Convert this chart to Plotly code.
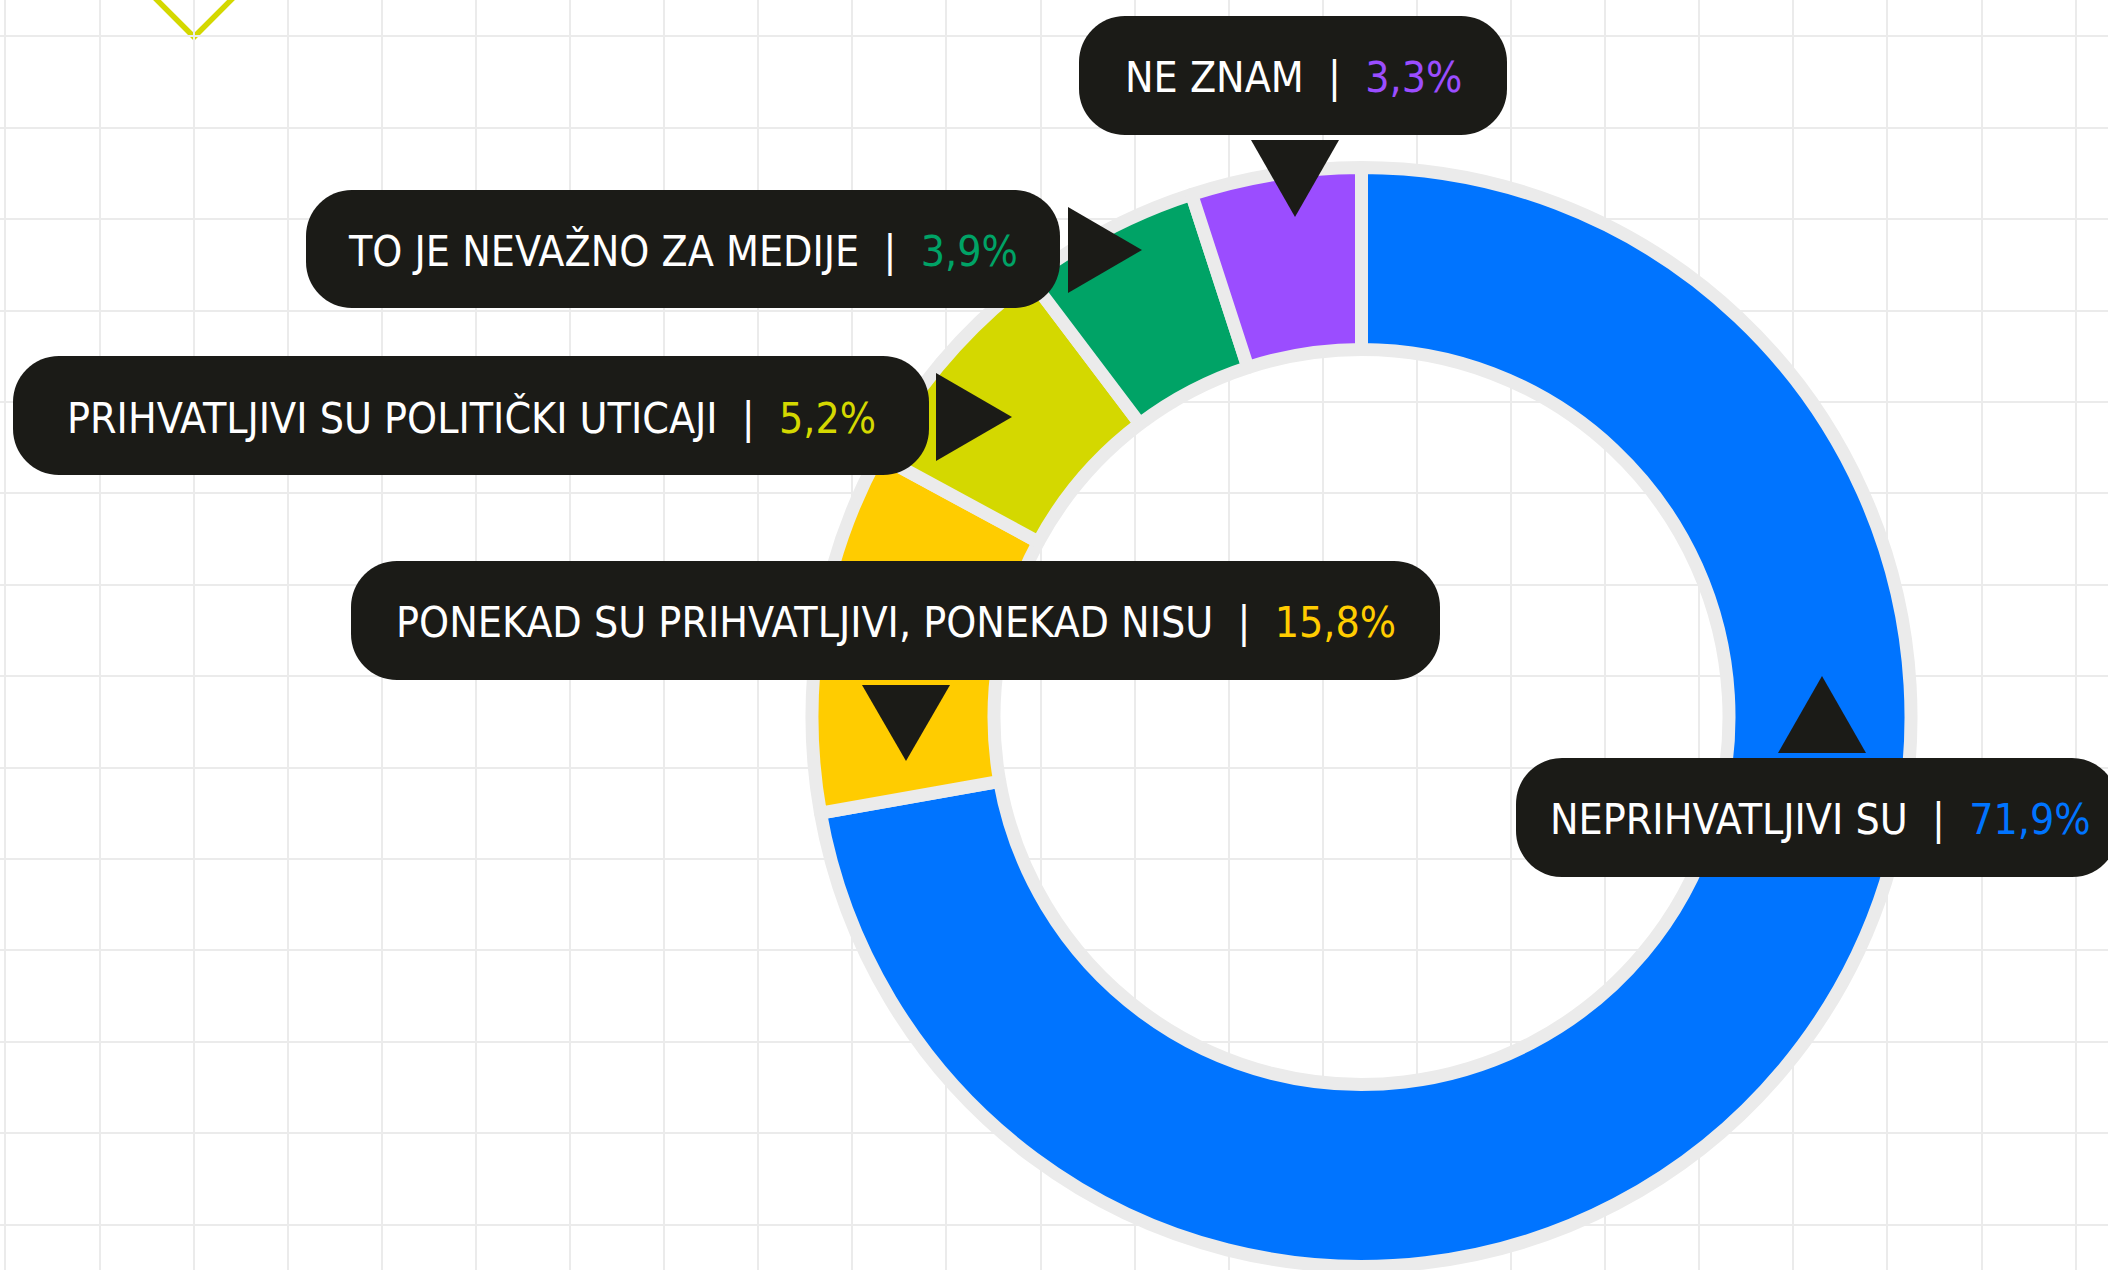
import plotly.graph_objects as go

# ---------------- data ----------------
categories = [
    "NEPRIHVATLJIVI SU",
    "PONEKAD SU PRIHVATLJIVI, PONEKAD NISU",
    "PRIHVATLJIVI SU POLITIČKI UTICAJI",
    "TO JE NEVAŽNO ZA MEDIJE",
    "NE ZNAM",
]
# percentages printed in the labels
values = [71.9, 15.8, 5.2, 3.9, 3.3]
# share of the ring that each slice actually occupies in the picture
slice_shares = [72.2, 10.7, 6.8, 5.3, 5.0]
colors = ["#0074FF", "#FFCC00", "#D4D800", "#00A366", "#9B4DFF"]
value_labels = [f"{v:.1f}".replace(".", ",") + "%" for v in values]

# ---------------- layout helpers (pixel coordinates on a 2108x1270 canvas) ----------------
W, H = 2108, 1270
BOX_COLOR = "#1B1B17"
GRID_COLOR = "#EBEBEB"
FONT = "DejaVu Sans Condensed, DejaVu Sans, sans-serif"

# label boxes: (x0, x1, y0, y1) ; triangles: list of 3 points
boxes = [
    (1516, 2118, 758, 877),
    (351, 1440, 561, 680),
    (13, 929, 356, 475),
    (306, 1060, 190, 308),
    (1079, 1507, 16, 135),
]
triangles = [
    [(1778, 753), (1866, 753), (1822, 676)],
    [(862, 685), (950, 685), (906, 761)],
    [(936, 373), (936, 461), (1012, 417)],
    [(1068, 207), (1068, 293), (1142, 250)],
    [(1251, 140), (1339, 140), (1295, 217)],
]
text_x = [1820, None, None, None, None]


def rounded_rect(x0, x1, y0, y1, r):
    k = 0.5523 * r
    return (
        f"M {x0 + r},{y0} L {x1 - r},{y0} "
        f"C {x1 - r + k},{y0} {x1},{y0 + r - k} {x1},{y0 + r} "
        f"L {x1},{y1 - r} "
        f"C {x1},{y1 - r + k} {x1 - r + k},{y1} {x1 - r},{y1} "
        f"L {x0 + r},{y1} "
        f"C {x0 + r - k},{y1} {x0},{y1 - r + k} {x0},{y1 - r} "
        f"L {x0},{y0 + r} "
        f"C {x0},{y0 + r - k} {x0 + r - k},{y0} {x0 + r},{y0} Z"
    )


def tri(points):
    (a, b), (c, d), (e, f) = points
    return f"M {a},{b} L {c},{d} L {e},{f} Z"


# ---------------- figure ----------------
cx, cy, R = 1361.5, 717, 549.5
fig = go.Figure()

# invisible trace to establish the cartesian grid
fig.add_trace(go.Scatter(x=[0, W], y=[0, H], mode="markers",
                         marker=dict(opacity=0), hoverinfo="skip", showlegend=False))

fig.add_trace(go.Pie(
    labels=categories,
    values=slice_shares,
    customdata=value_labels,
    hovertemplate="%{label}: %{customdata}<extra></extra>",
    sort=False,
    direction="clockwise",
    rotation=0,
    hole=367.5 / R,
    marker=dict(colors=colors, line=dict(color=GRID_COLOR, width=13)),
    textinfo="none",
    showlegend=False,
    domain=dict(x=[(cx - R) / W, (cx + R) / W], y=[(H - cy - R) / H, (H - cy + R) / H]),
))

shapes = []
# decorative lime diamond at the top-left (mostly cut off)
shapes.append(dict(type="path", xref="x", yref="y",
                   path="M 120,-37 L 194,37 L 268,-37",
                   line=dict(color="#D4D800", width=5.5), layer="below"))

for (x0, x1, y0, y1), t in zip(boxes, triangles):
    shapes.append(dict(type="path", xref="x", yref="y", path=rounded_rect(x0, x1, y0, y1, 46),
                       fillcolor=BOX_COLOR, line=dict(width=0), layer="above"))
    shapes.append(dict(type="path", xref="x", yref="y", path=tri(t),
                       fillcolor=BOX_COLOR, line=dict(width=0), layer="above"))

annotations = []
sep = "&nbsp;&nbsp;|&nbsp;&nbsp;"
for i, (cat, val, col) in enumerate(zip(categories, value_labels, colors)):
    x0, x1, y0, y1 = boxes[i]
    xc = text_x[i] if text_x[i] is not None else (x0 + x1) / 2
    annotations.append(dict(
        x=xc, y=(y0 + y1) / 2 + 2, xref="x", yref="y",
        text=f"{cat}{sep}<span style='color:{col}'>{val}</span>",
        showarrow=False, xanchor="center", yanchor="middle",
        font=dict(family=FONT, size=42.5, color="white"),
    ))

fig.update_layout(
    width=W, height=H,
    margin=dict(l=0, r=0, t=0, b=0),
    paper_bgcolor="white", plot_bgcolor="white",
    xaxis=dict(range=[0, W], showgrid=True, gridcolor=GRID_COLOR, gridwidth=2,
               tick0=5.4, dtick=94.1, zeroline=False, showticklabels=False, showline=False,
               fixedrange=True),
    yaxis=dict(range=[H, 0], showgrid=True, gridcolor=GRID_COLOR, gridwidth=2,
               tick0=36.3, dtick=91.4, zeroline=False, showticklabels=False, showline=False,
               fixedrange=True),
    shapes=shapes,
    annotations=annotations,
    showlegend=False,
)

fig.write_html("out.html", config={"displayModeBar": False},
               post_script="document.body.style.margin='0';document.body.style.overflow='hidden';")
